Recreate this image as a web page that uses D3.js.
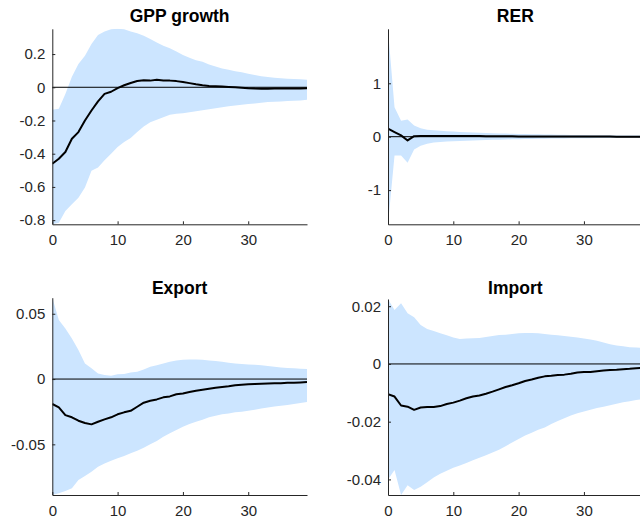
<!DOCTYPE html>
<html>
<head>
<meta charset="utf-8">
<script src="https://cdn.jsdelivr.net/npm/d3@7/dist/d3.min.js"></script>
<style>
html,body{margin:0;padding:0;background:#fff;overflow:hidden;}
svg{display:block;}
text{font-family:"Liberation Sans",Arial,Helvetica,sans-serif;}
</style>
</head>
<body>
<svg id="chart" width="640" height="521"></svg>
<script>
// horizons 0..39
const horizons = d3.range(0, 40);
const xTicks = [0, 10, 20, 30];
const xTickLabels = ["0", "10", "20", "30"];

// GPP growth
const gppMedian = [-0.46,-0.43,-0.39,-0.31,-0.27,-0.20,-0.14,-0.085,-0.04,-0.027,-0.005,0.012,0.026,0.038,0.042,0.040,0.045,0.041,0.040,0.037,0.032,0.025,0.018,0.012,0.008,0.006,0.004,0.002,0.0,-0.003,-0.006,-0.008,-0.009,-0.009,-0.008,-0.008,-0.008,-0.007,-0.007,-0.006];
const gppUpper = [-0.135,-0.13,-0.04,0.063,0.14,0.19,0.26,0.315,0.335,0.35,0.352,0.35,0.335,0.325,0.31,0.29,0.27,0.25,0.235,0.215,0.195,0.177,0.163,0.153,0.137,0.125,0.113,0.105,0.097,0.09,0.082,0.074,0.066,0.062,0.058,0.054,0.052,0.05,0.048,0.046];
const gppLower = [-0.825,-0.815,-0.745,-0.705,-0.665,-0.604,-0.503,-0.483,-0.44,-0.40,-0.36,-0.33,-0.305,-0.27,-0.236,-0.21,-0.196,-0.18,-0.166,-0.16,-0.156,-0.15,-0.144,-0.138,-0.132,-0.127,-0.121,-0.115,-0.11,-0.105,-0.10,-0.097,-0.093,-0.089,-0.087,-0.085,-0.083,-0.081,-0.079,-0.075];
const gppYTicks = [-0.8,-0.6,-0.4,-0.2,0,0.2];
const gppYTickLabels = ["-0.8","-0.6","-0.4","-0.2","0","0.2"];

// RER
const rerMedian = [0.15,0.086,0.024,-0.07,0.01,0.015,0.015,0.012,0.014,0.013,0.012,0.012,0.012,0.011,0.011,0.010,0.009,0.008,0.008,0.007,0.006,0.006,0.005,0.005,0.004,0.004,0.004,0.003,0.003,0.003,0.002,0.002,0.002,0.002,0.002,0.001,0.001,0.001,0.001,0.001];
const rerUpper = [2.0,0.55,0.30,0.32,0.21,0.16,0.13,0.12,0.11,0.10,0.095,0.09,0.085,0.08,0.075,0.07,0.066,0.062,0.058,0.055,0.052,0.049,0.046,0.044,0.042,0.040,0.038,0.036,0.034,0.032,0.030,0.029,0.028,0.026,0.025,0.024,0.023,0.022,0.021,0.020];
const rerLower = [-1.64,-0.35,-0.35,-0.49,-0.24,-0.17,-0.13,-0.11,-0.10,-0.09,-0.085,-0.08,-0.075,-0.07,-0.066,-0.062,-0.058,-0.055,-0.052,-0.049,-0.046,-0.044,-0.042,-0.040,-0.038,-0.036,-0.034,-0.032,-0.031,-0.030,-0.028,-0.027,-0.026,-0.025,-0.024,-0.023,-0.022,-0.021,-0.020,-0.019];
const rerYTicks = [-1,0,1];
const rerYTickLabels = ["-1","0","1"];

// Export
const expMedian = [-0.0191,-0.0217,-0.0276,-0.0293,-0.0319,-0.0337,-0.0347,-0.0327,-0.0309,-0.0293,-0.027,-0.0255,-0.0243,-0.0212,-0.0181,-0.0166,-0.0156,-0.014,-0.0133,-0.0117,-0.011,-0.0099,-0.0089,-0.0082,-0.0074,-0.0066,-0.0061,-0.0056,-0.0048,-0.0043,-0.004,-0.0038,-0.0036,-0.0034,-0.0033,-0.0032,-0.0029,-0.0028,-0.0026,-0.0023];
const expUpper = [0.0623,0.0452,0.0388,0.0311,0.0222,0.012,0.0082,0.0043,0.0031,0.0026,0.0036,0.0038,0.0051,0.0056,0.0074,0.0094,0.0105,0.012,0.0133,0.0143,0.0148,0.015,0.015,0.0148,0.0143,0.0138,0.0133,0.0125,0.012,0.0115,0.0112,0.011,0.0105,0.010,0.0094,0.0089,0.0084,0.0082,0.0079,0.0077];
const expLower = [-0.0888,-0.0875,-0.0858,-0.0837,-0.0773,-0.0743,-0.071,-0.0671,-0.0646,-0.0626,-0.0607,-0.059,-0.0569,-0.0549,-0.0526,-0.05,-0.0475,-0.0442,-0.0416,-0.039,-0.0365,-0.0345,-0.0327,-0.0311,-0.0293,-0.0281,-0.027,-0.0263,-0.0255,-0.025,-0.0243,-0.0235,-0.0225,-0.0217,-0.021,-0.0204,-0.0199,-0.0191,-0.0184,-0.0176];
const expYTicks = [-0.05,0,0.05];
const expYTickLabels = ["-0.05","0","0.05"];

// Import
const impMedian = [-0.0105,-0.0113,-0.0144,-0.0148,-0.0159,-0.0151,-0.0149,-0.0149,-0.0146,-0.0139,-0.0134,-0.0127,-0.0119,-0.0113,-0.0109,-0.0103,-0.0096,-0.0088,-0.008,-0.0074,-0.0067,-0.0059,-0.0054,-0.0048,-0.0043,-0.0041,-0.0038,-0.0037,-0.0034,-0.003,-0.0028,-0.0028,-0.0025,-0.0023,-0.0021,-0.002,-0.0018,-0.0017,-0.0015,-0.0014];
const impUpper = [0.0225,0.0187,0.021,0.0176,0.0162,0.0135,0.0121,0.0114,0.0106,0.0099,0.0092,0.0086,0.0088,0.0089,0.009,0.0093,0.0097,0.010,0.0101,0.0104,0.0106,0.0107,0.0107,0.0106,0.0104,0.0101,0.0099,0.0097,0.0094,0.0092,0.0088,0.0085,0.0080,0.0074,0.0068,0.0064,0.0061,0.0058,0.0057,0.0055];
const impLower = [-0.040,-0.0367,-0.0454,-0.042,-0.0437,-0.0425,-0.041,-0.0393,-0.038,-0.037,-0.036,-0.0352,-0.0343,-0.0334,-0.0325,-0.0316,-0.0307,-0.0297,-0.0285,-0.0272,-0.026,-0.0248,-0.0238,-0.0228,-0.022,-0.0208,-0.0198,-0.0188,-0.0179,-0.0171,-0.0165,-0.0159,-0.0153,-0.0148,-0.0143,-0.0138,-0.0133,-0.0129,-0.0125,-0.0122];
const impYTicks = [-0.04,-0.02,0,0.02];
const impYTickLabels = ["-0.04","-0.02","0","0.02"];

const panelTitles = ["GPP growth","RER","Export","Import"];

const panels = [
  {title: panelTitles[0], med: gppMedian, up: gppUpper, lo: gppLower, yt: gppYTicks, ytl: gppYTickLabels,
   ydom: [-0.825, 0.352], box: {x0: 52.3, x1: 307, y0: 28.8, y1: 224.3}, ty: 22},
  {title: panelTitles[1], med: rerMedian, up: rerUpper, lo: rerLower, yt: rerYTicks, ytl: rerYTickLabels,
   ydom: [-1.64, 2.02], box: {x0: 388, x1: 642.7, y0: 28.8, y1: 224.3}, ty: 22},
  {title: panelTitles[2], med: expMedian, up: expUpper, lo: expLower, yt: expYTicks, ytl: expYTickLabels,
   ydom: [-0.0888, 0.0623], box: {x0: 52.3, x1: 307, y0: 297.7, y1: 495}, ty: 293.5},
  {title: panelTitles[3], med: impMedian, up: impUpper, lo: impLower, yt: impYTicks, ytl: impYTickLabels,
   ydom: [-0.0454, 0.0225], box: {x0: 388, x1: 642.7, y0: 299, y1: 495}, ty: 293.5}
];

const svg = d3.select("#chart");
const axisColor = "#262626";

panels.forEach((p, i) => {
  const b = p.box;
  const x = d3.scaleLinear().domain([0, 39]).range([b.x0, b.x1]);
  const y = d3.scaleLinear().domain(p.ydom).range([b.y1, b.y0]);
  const g = svg.append("g");
  const clipId = "clip" + i;
  svg.append("clipPath").attr("id", clipId).append("rect")
    .attr("x", b.x0).attr("y", b.y0).attr("width", b.x1 - b.x0).attr("height", b.y1 - b.y0);

  const plot = g.append("g").attr("clip-path", `url(#${clipId})`);
  const area = d3.area().x((d, k) => x(horizons[k])).y0((d, k) => y(p.lo[k])).y1((d, k) => y(p.up[k]));
  plot.append("path").datum(p.med).attr("d", area).attr("fill", "#cce5ff").attr("stroke", "none");
  plot.append("line").attr("x1", x(0)).attr("x2", x(39)).attr("y1", y(0)).attr("y2", y(0))
    .attr("stroke", "#000").attr("stroke-width", 1);
  const line = d3.line().x((d, k) => x(horizons[k])).y(d => y(d));
  plot.append("path").datum(p.med).attr("d", line).attr("fill", "none")
    .attr("stroke", "#000").attr("stroke-width", 2).attr("stroke-linejoin", "round");

  const xAxis = d3.axisBottom(x).tickValues(xTicks).tickFormat((d, k) => xTickLabels[k])
    .tickSizeInner(-3).tickSizeOuter(0).tickPadding(10);
  const xa = g.append("g").attr("transform", `translate(0,${b.y1})`).call(xAxis);
  const yAxis = d3.axisLeft(y).tickValues(p.yt).tickFormat((d, k) => p.ytl[k])
    .tickSizeInner(-3).tickSizeOuter(0).tickPadding(7);
  const ya = g.append("g").attr("transform", `translate(${b.x0},0)`).call(yAxis);
  [xa, ya].forEach(a => {
    a.select(".domain").attr("stroke", axisColor).attr("stroke-width", 1);
    a.selectAll(".tick line").attr("stroke", axisColor);
    a.selectAll(".tick text").attr("fill", axisColor).style("font-size", "15px")
      .style("font-family", '"Liberation Sans",Arial,Helvetica,sans-serif');
  });

  g.append("text").attr("x", (b.x0 + b.x1) / 2).attr("y", p.ty)
    .attr("text-anchor", "middle").style("font-size", "17.5px").style("font-weight", "bold")
    .attr("fill", "#000").text(p.title);
});
</script>
</body>
</html>
